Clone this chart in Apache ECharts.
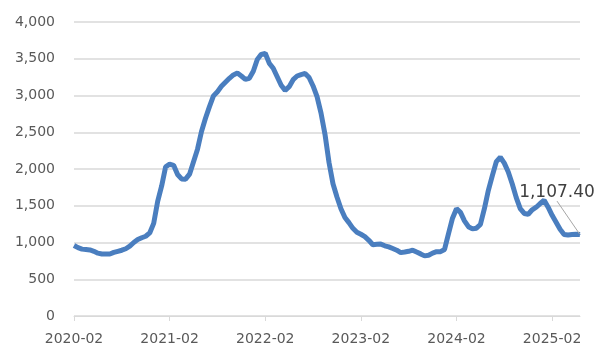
<!DOCTYPE html>
<html>
<head>
<meta charset="utf-8">
<script src="https://cdn.jsdelivr.net/npm/echarts@6/dist/echarts.min.js"></script>
<style>html,body{margin:0;padding:0;background:#fff;}#c{width:603px;height:357px;}</style>
</head>
<body>
<div id="c"></div>
<script>
// Half-month periods from 2020-02 to 2025-05
const startYear = 2020, startMonth = 2, monthCount = 64;
const tickLabels = ['2020-02','2021-02','2022-02','2023-02','2024-02','2025-02'];
const yTicks = [0, 500, 1000, 1500, 2000, 2500, 3000, 3500, 4000];
const lastLabel = '1,107.40';

const values = [
  960, 930, 910, 905, 898, 880, 855, 843, 843, 843,
  865, 880, 895, 915, 950, 1000, 1040, 1065, 1085, 1130,
  1260, 1560, 1770, 2030, 2065, 2050, 1925, 1865, 1862, 1930,
  2100, 2270, 2510, 2690, 2848, 2995, 3052, 3125, 3180, 3234,
  3280, 3305, 3265, 3220, 3235, 3330, 3490, 3560, 3574, 3440,
  3370, 3255, 3140, 3070, 3120, 3215, 3265, 3285, 3300, 3245,
  3130, 2984, 2760, 2470, 2090, 1800, 1620, 1460, 1340, 1270,
  1193, 1140, 1112, 1080, 1030, 970, 975, 978, 955, 940,
  918, 895, 862, 870, 880, 896, 870, 845, 818, 826,
  855, 875, 875, 905, 1120, 1330, 1460, 1410, 1295, 1215,
  1185, 1195, 1245, 1460, 1710, 1910, 2100, 2160, 2080, 1960,
  1795, 1610, 1460, 1395, 1385, 1445, 1480, 1530, 1575, 1480,
  1370, 1275, 1180, 1110, 1102, 1108, 1113, 1107.4
];

const categories = [];
for (let m = 0; m < monthCount; m++) {
  const y = startYear + Math.floor((startMonth - 1 + m) / 12);
  const mo = ((startMonth - 1 + m) % 12) + 1;
  const ym = y + '-' + (mo < 10 ? '0' + mo : '' + mo);
  categories.push(ym + '-01');
  categories.push(ym + '-16');
}

function fmtThousands(v) {
  const s = String(Math.round(v));
  return s.replace(/\B(?=(\d{3})+(?!\d))/g, ',');
}

const seriesData = values.map((v, i) => {
  if (i === values.length - 1) {
    return {
      value: v,
      symbol: 'circle',
      symbolSize: 1,
      label: {
        show: true,
        position: 'top',
        formatter: lastLabel,
        fontFamily: 'DejaVu Sans',
        fontSize: 17,
        color: '#404040'
      }
    };
  }
  return v;
});

const chart = echarts.init(document.getElementById('c'), null, {renderer: 'canvas'});
const isTick = (idx) => tickLabels.indexOf(categories[idx].slice(0, 7)) >= 0 && categories[idx].slice(8) === '01';
chart.setOption({
  animation: false,
  backgroundColor: '#ffffff',
  grid: {left: 74, right: 23, top: 22, bottom: 41, containLabel: false},
  xAxis: {
    type: 'category',
    data: categories,
    boundaryGap: false,
    axisLine: {show: true, lineStyle: {color: '#d9d9d9', width: 1}},
    axisTick: {show: true, length: 5, interval: (idx) => isTick(idx), lineStyle: {color: '#d9d9d9'}},
    axisLabel: {
      interval: (idx) => isTick(idx),
      formatter: (v) => v.slice(0, 7),
      color: '#595959',
      fontFamily: 'DejaVu Sans',
      fontSize: 14,
      margin: 16
    },
    splitLine: {show: false}
  },
  yAxis: {
    type: 'value',
    min: yTicks[0],
    max: yTicks[yTicks.length - 1],
    interval: 500,
    axisLine: {show: false},
    axisTick: {show: false},
    axisLabel: {
      formatter: (v) => fmtThousands(v),
      color: '#595959',
      fontFamily: 'DejaVu Sans',
      fontSize: 14,
      margin: 19
    },
    splitLine: {show: true, lineStyle: {color: '#d9d9d9', width: 1.5}}
  },
  series: [{
    type: 'line',
    data: seriesData,
    showSymbol: true,
    showAllSymbol: true,
    symbol: 'none',
    smooth: false,
    lineStyle: {color: '#4a7ebf', width: 5},
    itemStyle: {color: '#4a7ebf'},
    label: {show: false},
    labelLine: {show: true, lineStyle: {color: '#a6a6a6', width: 1}},
    labelLayout: {dx: -23, dy: -28}
  }]
});
</script>
</body>
</html>
